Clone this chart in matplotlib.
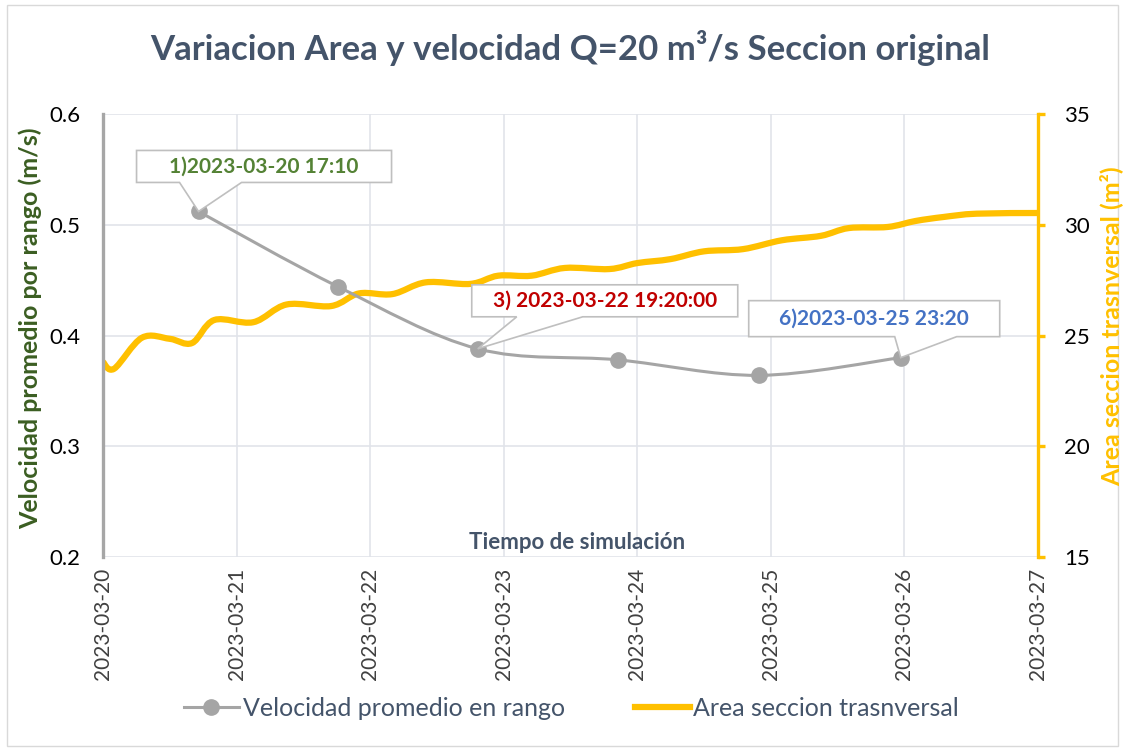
import pandas as pd
import numpy as np
import matplotlib.pyplot as plt
import matplotlib.dates as mdates
from matplotlib.path import Path
from matplotlib.patches import PathPatch, Polygon, Rectangle
from matplotlib.lines import Line2D
from matplotlib.transforms import Affine2D

plt.rcParams['font.family'] = ['Lato', 'DejaVu Sans']

# --- datos ---
start = pd.Timestamp("2023-03-20 00:00")

# velocidad promedio en rango (eje izquierdo)
vel_time = ["2023-03-20 17:10", "2023-03-21 18:15", "2023-03-22 19:20",
            "2023-03-23 20:30", "2023-03-24 21:50", "2023-03-25 23:20"]
vel_value = [0.512, 0.444, 0.388, 0.378, 0.364, 0.380]

# area seccion transversal (eje derecho), horas desde el inicio
area_hours = [0, 2, 7, 12, 16, 20, 27, 33, 41, 46, 52, 58, 66, 71, 77, 83,
              91, 96, 102, 108, 115, 122, 129, 134, 141, 146, 151, 157, 168]
area_value = [23.8, 23.5, 24.9, 24.85, 24.66, 25.7, 25.6, 26.4, 26.33, 26.9,
              26.87, 27.4, 27.33, 27.7, 27.7, 28.05, 28.0, 28.27, 28.45, 28.8,
              28.9, 29.3, 29.5, 29.85, 29.9, 30.17, 30.35, 30.5, 30.53]

day_ticks = pd.date_range("2023-03-20", "2023-03-27", freq="D")

# callouts: (indice del punto, texto, color)
callouts = [(0, "1)2023-03-20 17:10", "#548235"),
            (2, "3) 2023-03-22 19:20:00", "#C00000"),
            (5, "6)2023-03-25 23:20", "#4472C4")]

vel_x = mdates.date2num(pd.to_datetime(vel_time))
area_x = mdates.date2num([start + pd.Timedelta(hours=h) for h in area_hours])


def smooth_path(x, y):
    # curva suavizada tipo Excel (bezier cubica)
    pts = np.column_stack([x, y])
    verts = [pts[0]]
    codes = [Path.MOVETO]
    n = len(pts)
    for i in range(n - 1):
        p0 = pts[max(i - 1, 0)]
        p1 = pts[i]
        p2 = pts[i + 1]
        p3 = pts[min(i + 2, n - 1)]
        c1 = p1 + (p2 - p0) / 6
        c2 = p2 - (p3 - p1) / 6
        verts += [c1, c2, p2]
        codes += [Path.CURVE4] * 3
    return Path(verts, codes)


fig = plt.figure(figsize=(11.25, 7.5), dpi=100)
ax2 = fig.add_axes([103 / 1125, 1 - 557 / 750, 935 / 1125, 443 / 750])
ax = ax2.twinx()
ax.yaxis.tick_left()
ax2.yaxis.tick_right()
ax.set_zorder(ax2.get_zorder() + 1)
ax.patch.set_visible(False)

xmin, xmax = mdates.date2num(day_ticks[0]), mdates.date2num(day_ticks[-1])

# area (naranja)
ax2.add_patch(PathPatch(smooth_path(area_x, area_value), fill=False,
                        ec="#FFC000", lw=4.5, capstyle="round", joinstyle="round"))
ax2.set_ylim(15, 35)
ax2.set_yticks([15, 20, 25, 30, 35])
ax2.set_xlim(xmin, xmax)
ax2.grid(True, color="#E1E4EA", lw=1.2)
ax2.set_axisbelow(True)

# velocidad (gris)
ax.add_patch(PathPatch(smooth_path(vel_x, vel_value), fill=False,
                       ec="#A5A5A5", lw=2.2))
ax.plot(vel_x, vel_value, ls="none", marker="o", ms=11, color="#A5A5A5")
ax.set_ylim(0.2, 0.6)
ax.set_yticks([0.2, 0.3, 0.4, 0.5, 0.6])
ax.set_xlim(xmin, xmax)

ax2.set_xticks(mdates.date2num(day_ticks))
ax2.xaxis.set_major_formatter(mdates.DateFormatter("%Y-%m-%d"))
ax2.tick_params(axis="x", length=0, pad=8, labelsize=15, labelrotation=90,
                labelcolor="#404040")
ax.tick_params(axis="x", length=0, labelbottom=False)

for s in ["top", "bottom"]:
    ax.spines[s].set_visible(False)
    ax2.spines[s].set_visible(False)
ax.spines["right"].set_visible(False)
ax2.spines["left"].set_visible(False)
ax.spines["left"].set_color("#A6A6A6")
ax.spines["left"].set_linewidth(2.4)
ax2.spines["right"].set_color("#FFC000")
ax2.spines["right"].set_linewidth(2.4)

ax.tick_params(axis="y", length=0, pad=16, labelsize=16, labelcolor="#000000")
ax2.tick_params(axis="y", length=5, width=2.4, color="#FFC000", pad=14,
                labelsize=16, labelcolor="#000000")

fig.text(30 / 1125, 1 - 328 / 750, "Velocidad promedio por rango (m/s)",
         rotation=90, ha="center", va="center", fontsize=18,
         fontweight="bold", color="#3B5E22")
fig.text(1111 / 1125, 1 - 326 / 750, "Area seccion trasnversal (m²)",
         rotation=90, ha="center", va="center", fontsize=18,
         fontweight="bold", color="#FFC000")

ax.text(0.507, 0.032, "Tiempo de simulación", transform=ax.transAxes,
        ha="center", va="center", fontsize=16, fontweight="bold", color="#44546A")

fig.text(0.507, 1 - 48 / 750, "Variacion Area y velocidad Q=20 m³/s Seccion original",
         ha="center", va="center", fontsize=25, fontweight="bold", color="#44546A")

# callouts (offsets en pixeles respecto al punto)
box_geo = [(-62, 193, 29, 61, -19, 43),
           (-6, 260, 32, 64, 39, 105),
           (-152, 99, 21, 57, -6, 56)]
for (idx, label, col), (l, r, b, t, b1, b2) in zip(callouts, box_geo):
    px, py = ax.transData.transform((vel_x[idx], vel_value[idx]))
    tr = Affine2D().translate(px, py)
    verts = [(l, t), (r, t), (r, b), (b2, b), (0, 0), (b1, b), (l, b)]
    ax.add_artist(Polygon(verts, closed=True, fc="white", ec="#BFBFBF", lw=1.2,
                          transform=tr, clip_on=False, zorder=5))
    fig.text((px + (l + r) / 2) / 1125, (py + (b + t) / 2) / 750, label,
             ha="center", va="center", fontsize=15, fontweight="bold",
             color=col, zorder=6)

handles = [Line2D([], [], color="#A5A5A5", lw=2.2, marker="o", ms=11),
           Line2D([], [], color="#FFC000", lw=4.5)]
fig.legend(handles, ["Velocidad promedio en rango", "Area seccion trasnversal"],
           loc="center", bbox_to_anchor=(0.508, 1 - 708 / 750), ncol=2,
           frameon=False, fontsize=18, handlelength=2.2, handletextpad=0.15,
           columnspacing=2.8, labelcolor="#44546A")

fig.add_artist(Rectangle((0.006, 0.006), 0.988, 0.988, transform=fig.transFigure,
                         fill=False, ec="#D9D9D9", lw=1))

plt.savefig("out.png", dpi=100)
